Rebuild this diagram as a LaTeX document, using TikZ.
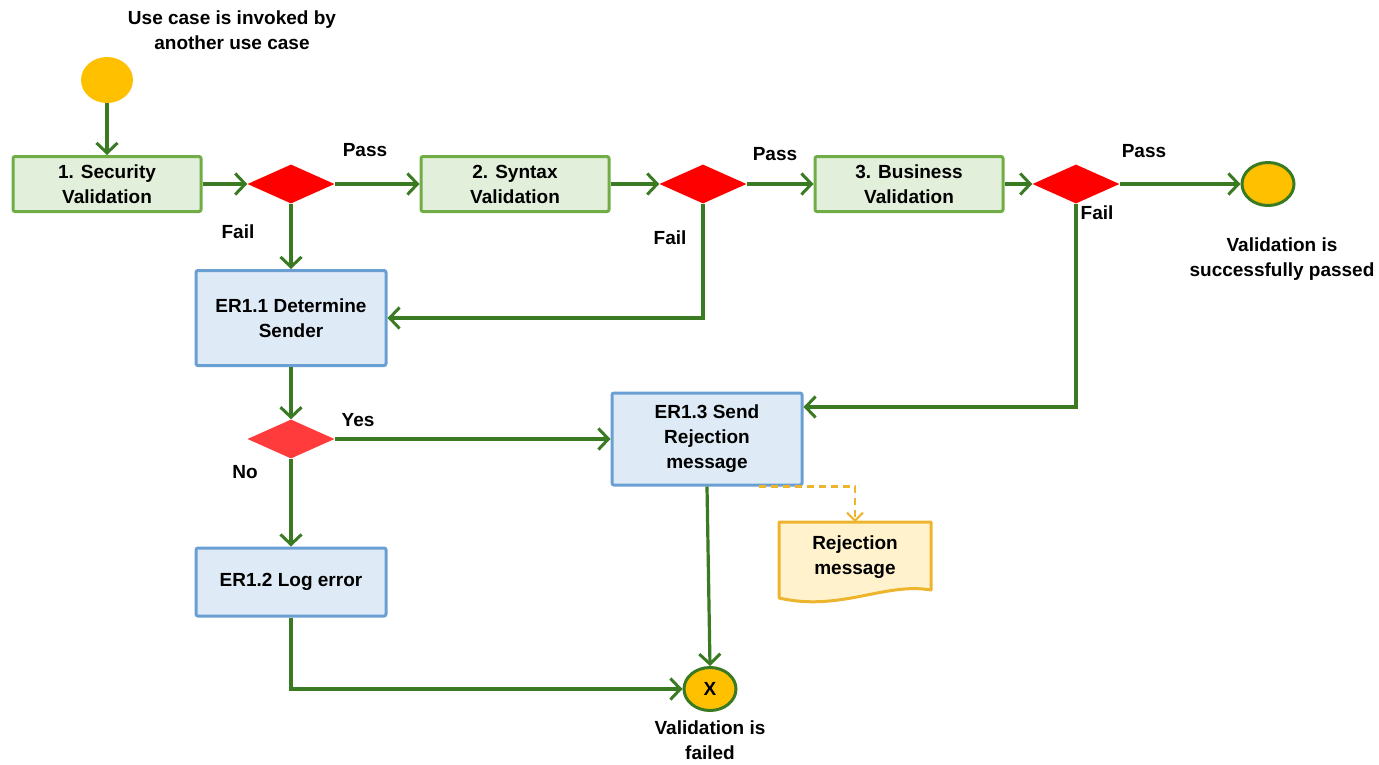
\documentclass[tikz,border=0pt]{standalone}
\usepackage{fontspec}
\setmainfont{Liberation Sans}
\usetikzlibrary{shapes.geometric,arrows.meta}
\definecolor{flow}{HTML}{3A7A22}
\definecolor{grfill}{HTML}{E2EFDA}
\definecolor{grline}{HTML}{70AD47}
\definecolor{blfill}{HTML}{DEEBF7}
\definecolor{blline}{HTML}{6A9FD4}
\definecolor{gold}{HTML}{FFC000}
\definecolor{docfill}{HTML}{FFF2CC}
\definecolor{docline}{HTML}{EDB42E}
\definecolor{decred}{HTML}{FF0000}
\definecolor{decpink}{HTML}{FF3B3B}
\tikzset{
  txt/.style={font=\fontsize{19}{25}\selectfont\bfseries, align=center, inner sep=0},
  greenbox/.style={txt, draw=grline, fill=grfill, line width=3pt, rounded corners=2pt,
    minimum width=188pt, minimum height=55pt},
  bluebox/.style={txt, draw=blline, fill=blfill, line width=3pt, rounded corners=2pt,
    minimum width=190pt},
  decision/.style={diamond, fill=decred, inner sep=0, minimum width=87pt, minimum height=39pt},
  startdot/.style={ellipse, fill=gold, inner sep=0, minimum width=52pt, minimum height=46pt},
  enddot/.style={txt, ellipse, fill=gold, draw=flow, line width=3pt, inner sep=0,
    minimum width=52pt, minimum height=43pt},
  flowline/.style={draw=flow, line width=3.2pt, -{Straight Barb[length=10pt,width=21pt,line width=3pt]}},
  dataline/.style={draw=docline, line width=2.2pt, dash pattern=on 7pt off 5pt,
    -{Straight Barb[length=8pt,width=16pt,line width=2pt]}},
}
\begin{document}
\begin{tikzpicture}[x=1pt,y=-1pt]
\useasboundingbox (0,0) rectangle (1379,764);

% start and end points
\node[startdot] (start) at (107,80) {};
\node[txt] (startlbl) at (232,30) {Use case is invoked by\\another use case};
\node[enddot] (succ) at (1268,184) {};
\node[txt] (succlbl) at (1282,259) {Validation is\\successfully passed};
\node[enddot] (fail) at (710,689) {X};
\node[txt] (faillbl) at (710,740) {Validation is\\failed};

% validation steps
\node[greenbox] (sec) at (107,184) {1. Security\\Validation};
\node[greenbox] (syn) at (515,184) {2. Syntax\\Validation};
\node[greenbox] (bus) at (909,184) {3. Business\\Validation};

% decisions
\node[decision] (d1) at (291,184) {};
\node[decision] (d2) at (703,184) {};
\node[decision] (d3) at (1076,184) {};
\node[decision, fill=decpink] (d4) at (291,439) {};

% error handling
\node[bluebox, minimum height=95pt] (er11) at (291,318) {ER1.1 Determine\\Sender};
\node[bluebox, minimum height=92pt] (er13) at (707,439) {ER1.3 Send\\Rejection\\message};
\node[bluebox, minimum height=68pt] (er12) at (291,582) {ER1.2 Log error};

% rejection document
\draw[docline, fill=docfill, line width=3pt, line join=round]
  (779,522) -- (931,522) -- (931,590)
  .. controls (885,582) and (840,612) .. (779,598) -- cycle;
\node[txt] (doc) at (855,557) {Rejection\\message};
\coordinate (docin) at (855,522);

% flow labels
\node[txt] (pass1) at (365,150) {Pass};
\node[txt] (pass2) at (775,154) {Pass};
\node[txt] (pass3) at (1144,151) {Pass};
\node[txt] (fail1) at (238,232) {Fail};
\node[txt] (fail2) at (670,238) {Fail};
\node[txt] (fail3) at (1097,213) {Fail};
\node[txt] (yes) at (358,420) {Yes};
\node[txt] (no) at (245,472) {No};

% connectors
\draw[flowline] (start.south) -- (sec.north);
\draw[flowline] (sec.east) -- (d1.west);
\draw[flowline] (d1.east) -- (syn.west);
\draw[flowline] (d1.south) -- (er11.north);
\draw[flowline] (syn.east) -- (d2.west);
\draw[flowline] (d2.east) -- (bus.west);
\draw[flowline] (d2.south) |- (er11.east);
\draw[flowline] (bus.east) -- (d3.west);
\draw[flowline] (d3.east) -- (succ.west);
\draw[flowline] (d3.south) |- ([yshift=32pt]er13.east);
\draw[flowline] (er11.south) -- (d4.north);
\draw[flowline] (d4.east) -- (er13.west);
\draw[flowline] (d4.south) -- (er12.north);
\draw[flowline] (er12.south) |- (fail.west);
\draw[flowline] (er13.south) -- (fail.north);
\draw[dataline] ([xshift=-45pt]er13.south east) -| (docin);
\end{tikzpicture}
\end{document}
